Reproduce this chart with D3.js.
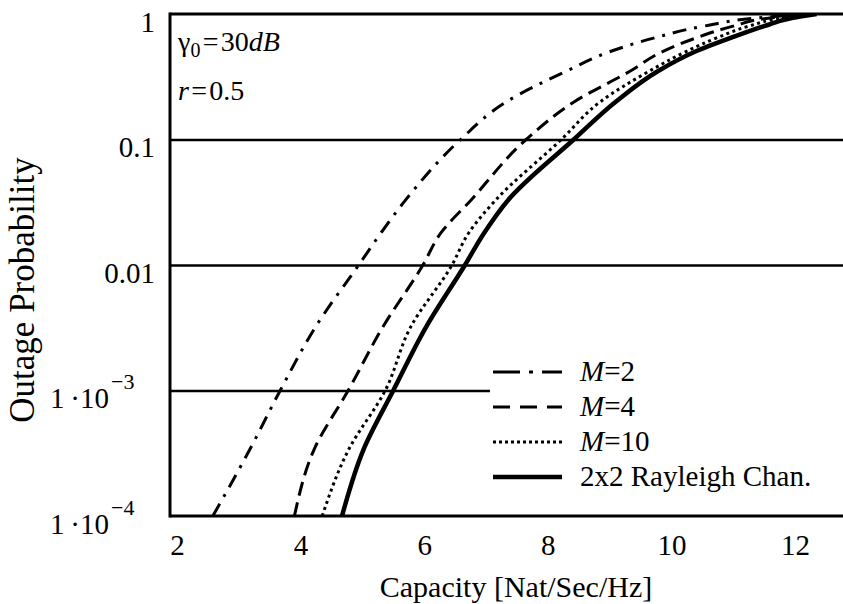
<!DOCTYPE html>
<html><head><meta charset="utf-8">
<script src="https://cdn.jsdelivr.net/npm/d3@7"></script>
<style>
body{margin:0;background:#fff}
svg{display:block}
text{font-family:"Liberation Serif","Times New Roman",serif;fill:#000}
</style>
</head><body>
<svg id="c" width="843" height="604"></svg>
<script>
// ---- data ----
const xTicks = [2, 4, 6, 8, 10, 12];
const yTicks = [1, 0.1, 0.01, 1e-3, 1e-4];
const yTickMantissa = ["1", "0.1", "0.01", "1\u2009\u00B710", "1\u2009\u00B710"];
const yTickExponent = ["", "", "", "\u22123", "\u22124"];
const probs = [1e-4, 3.4e-4, 1e-3, 3.2e-3, 0.01, 0.018, 0.033, 0.1, 0.2, 0.35, 0.5, 0.65, 0.8, 0.93, 1];
const capM2       = [2.58, 3.18, 3.67, 4.24, 4.94, 5.30, 5.70, 6.59, 7.33, 8.30, 9.00, 9.75, 10.52, 11.38, 12.2];
const capM4       = [3.90, 4.22, 4.77, 5.33, 5.98, 6.27, 6.76, 7.65, 8.43, 9.33, 9.85, 10.42, 11.00, 11.60, 12.3];
const capM10      = [4.35, 4.78, 5.37, 5.78, 6.45, 6.72, 7.16, 8.22, 8.85, 9.64, 10.23, 10.75, 11.25, 11.80, 12.3];
const capRayleigh = [4.67, 5.02, 5.50, 6.03, 6.66, 6.97, 7.36, 8.42, 9.10, 9.78, 10.38, 10.98, 11.50, 11.95, 12.35];
const seriesLabels = [["M", "=2"], ["M", "=4"], ["M", "=10"], ["", "2x2 Rayleigh Chan."]];

// ---- layout ----
const L = 170, R = 843, T = 14, B = 516;
const FS = 29, FT = 30;
const svg = d3.select("#c");

const x = d3.scaleLinear().domain([1.887, 12.777]).range([L, R]);
const y = d3.scaleLog().domain([1e-4, 1]).range([B, T]);

const series = [
  {cap: capM2, dash: "14,8,3,8", w: 3, legDash: "27,9,4,9"},
  {cap: capM4, dash: "14,7", w: 3, legDash: "17,10"},
  {cap: capM10, dash: "3,3.5", w: 3, legDash: "3,3"},
  {cap: capRayleigh, dash: null, w: 4.5, legDash: null}
];

// gridlines
const grid = svg.append("g").attr("transform", `translate(${L},0)`)
  .call(d3.axisLeft(y).tickValues([0.1, 0.01, 1e-3]).tickSize(-(R - L)).tickFormat(""));
grid.select(".domain").remove();
grid.selectAll("line").attr("stroke", "#000").attr("stroke-width", 2.5);

// clip
svg.append("clipPath").attr("id", "clip").append("rect")
  .attr("x", L).attr("y", T).attr("width", R - L).attr("height", B - T);

// legend background (covers gridline)
const legX = 493, legY0 = 372, legDy = 35;
svg.append("rect").attr("x", legX - 3).attr("y", legY0 - 20)
  .attr("width", R - legX + 3).attr("height", legDy * 3 + 40).attr("fill", "#fff");

// curves
const line = d3.line().x(d => x(d[0])).y(d => y(d[1])).curve(d3.curveMonotoneY);
const cg = svg.append("g").attr("clip-path", "url(#clip)");
series.forEach(s => {
  const pts = s.cap.map((c, i) => [c, probs[i]]);
  cg.append("path").attr("d", line(pts)).attr("fill", "none")
    .attr("stroke", "#000").attr("stroke-width", s.w)
    .attr("stroke-dasharray", s.dash).attr("stroke-linejoin", "round");
});

// frame lines
const frame = svg.append("g").attr("stroke", "#000").attr("stroke-width", 3);
frame.append("line").attr("x1", L).attr("x2", R).attr("y1", T).attr("y2", T);
frame.append("line").attr("x1", L).attr("x2", R).attr("y1", B).attr("y2", B);
frame.append("line").attr("x1", L).attr("x2", L).attr("y1", T - 1.5).attr("y2", B + 1.5);

// x axis labels
const xa = svg.append("g").attr("transform", `translate(0,${B})`)
  .call(d3.axisBottom(x).tickValues(xTicks).tickSize(0).tickPadding(0).tickFormat(d3.format("d")));
xa.select(".domain").remove();
xa.selectAll("text").attr("dy", null).attr("y", 39).attr("font-size", FS)
  .attr("font-family", '"Liberation Serif","Times New Roman",serif');

// y axis labels
const ya = svg.append("g").attr("transform", `translate(${L},0)`)
  .call(d3.axisLeft(y).tickValues(yTicks).tickSize(0).tickFormat(""));
ya.select(".domain").remove();
ya.selectAll(".tick").each(function(d) {
  const i = yTicks.indexOf(d);
  const t = d3.select(this).select("text").attr("dy", null).attr("y", 17)
    .attr("font-size", FS).attr("font-family", '"Liberation Serif","Times New Roman",serif');
  if (yTickExponent[i]) {
    t.attr("text-anchor", "start").attr("x", 50 - L);
    t.append("tspan").text(yTickMantissa[i]);
    t.append("tspan").attr("dy", -19).attr("dx", 2).attr("font-size", 22).text(yTickExponent[i]);
  } else {
    t.attr("text-anchor", "end").attr("x", 155 - L).text(yTickMantissa[i]);
  }
});

// axis titles
svg.append("text").attr("x", 516).attr("y", 597).attr("text-anchor", "middle")
  .attr("font-size", FT).text("Capacity [Nat/Sec/Hz]");
svg.append("text").attr("transform", "translate(34,290) rotate(-90)").attr("text-anchor", "middle")
  .attr("font-size", 35).text("Outage Probability");

// annotations
const a1 = svg.append("text").attr("x", 178).attr("y", 51).attr("font-size", 28);
a1.append("tspan").text("\u03B3");
a1.append("tspan").attr("font-size", 20).attr("dy", 6).text("0");
a1.append("tspan").attr("dy", -6).text("\u200A=\u200A30");
a1.append("tspan").attr("font-style", "italic").text("dB");
const a2 = svg.append("text").attr("x", 178).attr("y", 100).attr("font-size", 28);
a2.append("tspan").attr("font-style", "italic").text("r");
a2.append("tspan").text("\u200A=\u200A0.5");

// legend
series.forEach((s, i) => {
  const ly = legY0 + i * legDy;
  svg.append("line").attr("x1", legX).attr("x2", 562).attr("y1", ly).attr("y2", ly)
    .attr("stroke", "#000").attr("stroke-width", s.w).attr("stroke-dasharray", s.legDash);
  const t = svg.append("text").attr("x", 580).attr("y", ly + 9).attr("font-size", 29);
  if (seriesLabels[i][0]) t.append("tspan").attr("font-style", "italic").text(seriesLabels[i][0]);
  t.append("tspan").text(seriesLabels[i][1]);
});
</script>
</body></html>
